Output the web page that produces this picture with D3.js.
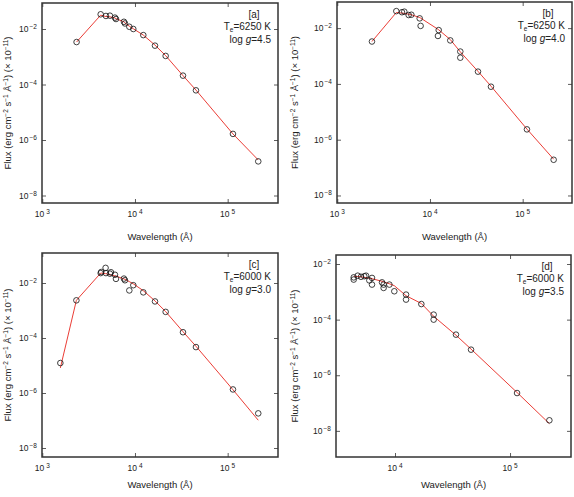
<!DOCTYPE html>
<html><head><meta charset="utf-8">
<script src="https://cdn.jsdelivr.net/npm/d3@7/dist/d3.min.js"></script>
<style>body{margin:0;background:#fff}text{font-family:"Liberation Sans",Arial,sans-serif}</style>
</head><body><svg id="c" width="574" height="497"></svg>
<script>
// log10 wavelength (Å) and log10 flux
const aWave=[3.37,3.63,3.687,3.730,3.784,3.795,3.881,3.892,3.939,3.982,4.090,4.216,4.331,4.518,4.658,5.057,5.330];
const aObs =[-2.47,-1.47,-1.53,-1.52,-1.59,-1.64,-1.74,-1.80,-1.92,-2.00,-2.22,-2.60,-2.97,-3.68,-4.21,-5.78,-6.77];
const aMod =[-2.47,-1.50,-1.55,-1.56,-1.60,-1.63,-1.74,-1.78,-1.90,-1.99,-2.22,-2.58,-2.96,-3.68,-4.20,-5.78,-6.72];
const bWave=[3.374,3.637,3.698,3.723,3.770,3.799,3.889,3.899,4.086,4.094,4.219,4.327,4.327,4.518,4.658,5.046,5.334];
const bObs =[-2.48,-1.39,-1.43,-1.41,-1.53,-1.52,-1.65,-1.92,-2.28,-2.07,-2.44,-2.84,-3.06,-3.56,-4.10,-5.63,-6.72];
const bMod =[-2.48,-1.44,-1.46,-1.47,-1.50,-1.52,-1.62,-1.64,-2.04,-2.06,-2.41,-2.85,-2.85,-3.55,-4.08,-5.62,-6.70];
const cWave=[3.195,3.368,3.630,3.636,3.683,3.687,3.730,3.741,3.784,3.795,3.881,3.892,3.939,3.982,4.090,4.216,4.331,4.518,4.658,5.057,5.330];
const cObs =[-4.91,-2.63,-1.64,-1.60,-1.45,-1.64,-1.66,-1.61,-1.70,-1.85,-1.84,-1.90,-2.27,-2.08,-2.34,-2.67,-3.05,-3.79,-4.33,-5.87,-6.74];
const cMod =[-5.09,-2.63,-1.64,-1.64,-1.66,-1.66,-1.70,-1.71,-1.74,-1.75,-1.85,-1.87,-1.95,-2.03,-2.28,-2.65,-3.04,-3.77,-4.30,-5.88,-6.99];
const dWave=[3.641,3.641,3.676,3.704,3.733,3.748,3.777,3.800,3.800,3.887,3.901,3.901,3.951,3.994,4.096,4.096,4.229,4.336,4.336,4.530,4.661,5.061,5.342];
const dObs =[-2.48,-2.56,-2.42,-2.46,-2.44,-2.42,-2.59,-2.50,-2.74,-2.66,-2.86,-2.74,-2.74,-2.98,-3.10,-3.28,-3.44,-3.82,-4.00,-4.54,-5.08,-6.64,-7.62];
const dMod =[-2.44,-2.44,-2.45,-2.46,-2.48,-2.49,-2.51,-2.53,-2.53,-2.62,-2.64,-2.64,-2.71,-2.78,-3.14,-3.14,-3.42,-3.88,-3.88,-4.56,-5.06,-6.62,-7.74];
const labels=["[a]","[b]","[c]","[d]"];
const teff=["6250","6250","6000","6000"];
const logg=["4.5","4.0","3.0","3.5"];
const xTicks=[3,4,5];
const yTicks=[-2,-4,-6,-8];

const panels=[
 {w:aWave,o:aObs,m:aMod,x0:42,x1:278,y0:3,y1:203,xd:[2.997,5.543],yd:[-8.27,-1.063],ox:0,oy:0},
 {w:bWave,o:bObs,m:bMod,x0:337,x1:572,y0:2,y1:203,xd:[2.997,5.532],yd:[-8.27,-1.063],ox:287,oy:0},
 {w:cWave,o:cObs,m:cMod,x0:42,x1:278,y0:253,y1:457,xd:[2.997,5.543],yd:[-8.327,-0.909],ox:0,oy:248},
 {w:dWave,o:dObs,m:dMod,x0:336,x1:571,y0:255,y1:457,xd:[3.487,5.530],yd:[-8.94,-1.676],ox:287,oy:248}
];
const svg=d3.select("#c");
panels.forEach((p,i)=>{
  const x=d3.scaleLinear().domain(p.xd).range([p.x0,p.x1]);
  const y=d3.scaleLinear().domain(p.yd).range([p.y1,p.y0]);
  const g=svg.append("g");
  const xt=xTicks.filter(t=>t>=p.xd[0]&&t<=p.xd[1]);
  const ax=d3.axisBottom(x).tickValues(xt).tickSizeInner(-4).tickSizeOuter(0).tickFormat("");
  const axT=d3.axisTop(x).tickValues(xt).tickSizeInner(-4).tickSizeOuter(0).tickFormat("");
  const ay=d3.axisLeft(y).tickValues(yTicks).tickSizeInner(-4).tickSizeOuter(0).tickFormat("");
  const ayR=d3.axisRight(y).tickValues(yTicks).tickSizeInner(-4).tickSizeOuter(0).tickFormat("");
  g.append("g").attr("transform",`translate(0,${p.y1})`).call(ax);
  g.append("g").attr("transform",`translate(0,${p.y0})`).call(axT);
  g.append("g").attr("transform",`translate(${p.x0},0)`).call(ay);
  g.append("g").attr("transform",`translate(${p.x1},0)`).call(ayR);
  g.selectAll(".domain").remove();
  g.selectAll(".tick line").attr("stroke","#333").attr("stroke-width",0.8);
  g.append("rect").attr("x",p.x0).attr("y",p.y0).attr("width",p.x1-p.x0).attr("height",p.y1-p.y0)
    .attr("fill","none").attr("stroke","#333").attr("stroke-width",1.5);
  xt.forEach(t=>{
    const tx=g.append("text").attr("x",x(t)).attr("y",p.y1+14).attr("text-anchor","middle")
      .attr("font-size",8.5).attr("fill","#222");
    tx.append("tspan").text("10");
    tx.append("tspan").attr("dx",2).attr("dy",-3).attr("font-size",6.5).text(t);
  });
  yTicks.forEach(t=>{
    const tx=g.append("text").attr("x",p.x0-5).attr("y",y(t)+3).attr("text-anchor","end")
      .attr("font-size",8.5).attr("fill","#222");
    tx.append("tspan").text("10");
    tx.append("tspan").attr("dx",1).attr("dy",-3).attr("font-size",6.5).text(String(t).replace("-","\u2212"));
  });
  g.append("text").attr("x",(p.x0+p.x1)/2).attr("y",p.oy+240).attr("text-anchor","middle")
    .attr("font-size",9.5).attr("fill","#222").text("Wavelength (Å)");
  const yt=g.append("text").attr("transform",`translate(${p.ox+11},${(p.y0+p.y1)/2}) rotate(-90)`)
    .attr("text-anchor","middle").attr("font-size",9.5).attr("fill","#222");
  yt.append("tspan").text("Flux (erg cm");
  yt.append("tspan").attr("dy",-3).attr("font-size",6.5).text("\u22122");
  yt.append("tspan").attr("dy",3).text(" s");
  yt.append("tspan").attr("dy",-3).attr("font-size",6.5).text("\u22121");
  yt.append("tspan").attr("dy",3).text(" Å");
  yt.append("tspan").attr("dy",-3).attr("font-size",6.5).text("\u22121");
  yt.append("tspan").attr("dy",3).text(") (× 10");
  yt.append("tspan").attr("dy",-3).attr("font-size",6.5).text("\u221211");
  yt.append("tspan").attr("dy",3).text(")");
  const rx=p.x1-7;
  g.append("text").attr("x",rx-17).attr("y",p.y0+15).attr("text-anchor","middle").attr("font-size",10).attr("fill","#222").text(labels[i]);
  const t1=g.append("text").attr("x",rx).attr("y",p.y0+27).attr("text-anchor","end").attr("font-size",10).attr("fill","#222");
  t1.append("tspan").text("T");
  t1.append("tspan").attr("dy",2).attr("font-size",6.5).text("e");
  t1.append("tspan").attr("dy",-2).text("=" + teff[i] + " K");
  const t2=g.append("text").attr("x",rx).attr("y",p.y0+40).attr("text-anchor","end").attr("font-size",10).attr("fill","#222");
  t2.append("tspan").text("log ");
  t2.append("tspan").attr("font-style","italic").text("g");
  t2.append("tspan").text("=" + logg[i]);
  const pts=p.w.map((w,k)=>[w,p.m[k]]);
  g.append("path").attr("d",d3.line().x(d=>x(d[0])).y(d=>y(d[1]))(pts))
    .attr("fill","none").attr("stroke","#e8271f").attr("stroke-width",0.9);
  g.selectAll("circle.o").data(p.w.map((w,k)=>[w,p.o[k]])).join("circle")
    .attr("cx",d=>x(d[0])).attr("cy",d=>y(d[1])).attr("r",2.8)
    .attr("fill","none").attr("stroke","#111").attr("stroke-width",0.8);
});
</script></body></html>
